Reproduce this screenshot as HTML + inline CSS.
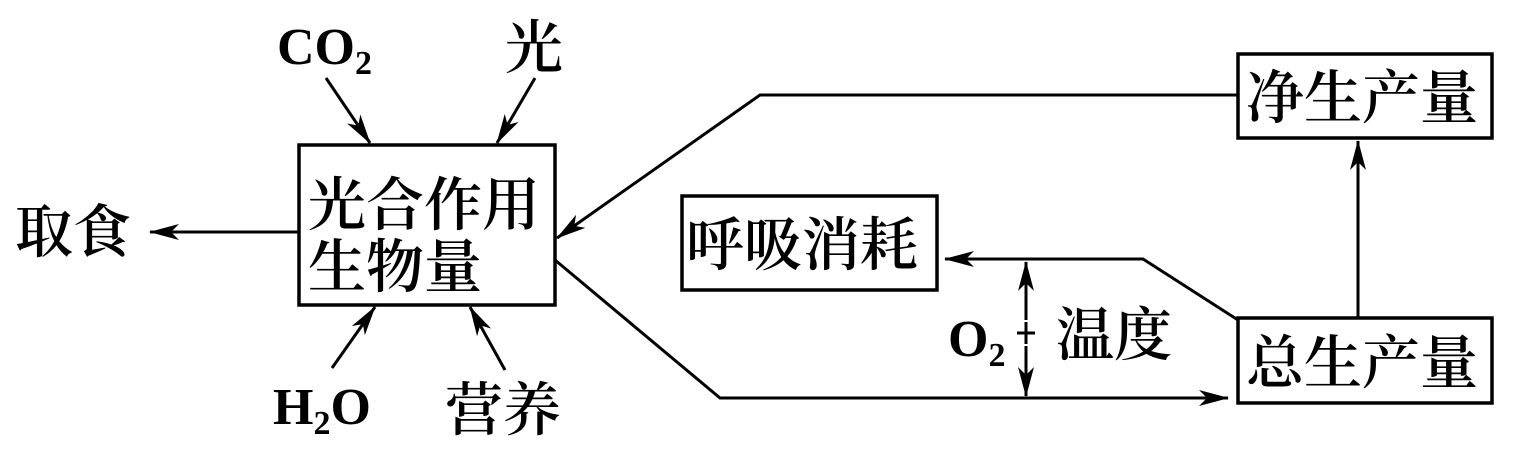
<!DOCTYPE html>
<html><head><meta charset="utf-8"><style>
html,body{margin:0;padding:0;background:#fff;}
svg{display:block;}
text{font-family:"Liberation Serif","Noto Serif CJK SC",serif;fill:#000;}
.c{font-size:58px;font-weight:600;font-family:"Noto Serif CJK SC","WenQuanYi Zen Hei",serif;}
.l{font-size:52px;font-weight:bold;}
</style></head><body>
<svg width="1519" height="458" viewBox="0 0 1519 458" xmlns="http://www.w3.org/2000/svg">
<defs>
<marker id="b" markerWidth="30" markerHeight="16" refX="29" refY="8" orient="auto" markerUnits="userSpaceOnUse">
<path d="M0,0 L30,8 L0,16 L8,8 Z" fill="#000"/>
</marker>
</defs>
<g fill="none" stroke="#000" stroke-width="3.5">
<rect x="299" y="145" width="256" height="160"/>
<rect x="682" y="196" width="255" height="94"/>
<rect x="1238" y="54" width="254" height="84"/>
<rect x="1238" y="318" width="254" height="85"/>
</g>
<g fill="none" stroke="#000" stroke-width="3">
<line x1="298" y1="232" x2="150" y2="232" marker-end="url(#b)"/>
<line x1="326" y1="78" x2="370" y2="143" marker-end="url(#b)"/>
<line x1="535" y1="78" x2="497" y2="143" marker-end="url(#b)"/>
<line x1="332" y1="368" x2="375" y2="307" marker-end="url(#b)"/>
<line x1="505" y1="370" x2="470" y2="307" marker-end="url(#b)"/>
<polyline points="1238,95 760,95 557,238" marker-end="url(#b)"/>
<polyline points="555,260 720,398 1228,398" marker-end="url(#b)"/>
<line x1="1358" y1="318" x2="1358" y2="141" marker-end="url(#b)"/>
<polyline points="1238,320 1143,259 945,259" marker-end="url(#b)"/>
<line x1="1026" y1="320" x2="1026" y2="262" marker-end="url(#b)"/>
<line x1="1026" y1="346" x2="1026" y2="396" marker-end="url(#b)"/>
<line x1="1026" y1="322" x2="1026" y2="344"/>
<line x1="1017" y1="333" x2="1035" y2="333"/>
</g>
<text class="c" x="308" y="225">光合作用</text>
<text class="c" x="308" y="287">生物量</text>
<text class="c" x="15" y="252">取食</text>
<text class="c" x="505" y="68">光</text>
<text class="c" x="445" y="430">营养</text>
<text class="c" x="686" y="265">呼吸消耗</text>
<text class="c" x="1246" y="118">净生产量</text>
<text class="c" x="1246" y="383">总生产量</text>
<text class="c" x="1056" y="355">温度</text>
<text class="l" x="277" y="64">CO<tspan font-size="34" dy="10">2</tspan></text>
<text class="l" x="273" y="424">H<tspan font-size="34" dy="10">2</tspan><tspan dy="-10">O</tspan></text>
<text class="l" x="948" y="356">O<tspan font-size="34" dy="10">2</tspan></text>
</svg>
</body></html>
